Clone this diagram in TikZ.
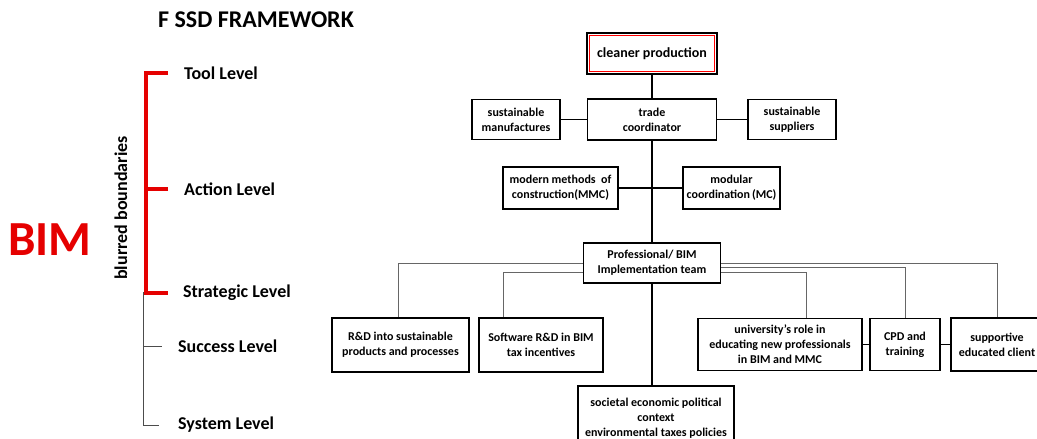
\documentclass[tikz,border=0pt]{standalone}
\usepackage{fontspec}
\setmainfont{Carlito}
\usetikzlibrary{positioning, calc}

\begin{document}
\begin{tikzpicture}[x=1pt, y=-1pt,
    box/.style={draw, line width=1.4pt, align=center, inner sep=2pt, font=\bfseries\fontsize{12}{15}\selectfont},
    level/.style={anchor=west, inner sep=0pt, font=\bfseries\fontsize{18}{20}\selectfont},
    link/.style={line width=1.4pt},
    feed/.style={gray!80!black, line width=0.9pt},
    bracket/.style={red!90!black, line width=4pt},
    tick/.style={gray!60!black, line width=0.8pt}]
    \useasboundingbox (0,0) rectangle (1037,439);

    % Title and BIM
    \node[inner sep=0pt, font=\bfseries\fontsize{24}{26}\selectfont] (title) at (256,20) {F SSD FRAMEWORK};
    \node[inner sep=0pt, text=red!90!black, font=\bfseries\fontsize{49}{52}\selectfont] (bim) at (50,240) {BIM};
    \node[inner sep=0pt, rotate=90, font=\bfseries\fontsize{18}{20}\selectfont] (blur) at (121,208) {blurred boundaries};

    % Levels
    \node[level] (tool) at (184,73) {Tool Level};
    \node[level] (act) at (184,189) {Action Level};
    \node[level] (strat) at (183,293) {Strategic Level};
    \node[level] (succ) at (178,346) {Success Level};
    \node[level] (sys) at (178,425) {System Level};

    % Red bracket
    \draw[bracket] ([xshift=-16pt]tool.west) -- ++(-22,0) |- ([xshift=-15pt]strat.west);
    \draw[bracket] ([xshift=-16pt]act.west) -- ++(-22,0);

    % Thin stem
    \coordinate (stem) at (143,292);
    \draw[tick] (stem) |- ([xshift=-19pt]sys.west);
    \draw[tick] (stem |- succ.west) -- ([xshift=-16pt]succ.west);

    % Top of the framework
    \node[box, minimum width=130pt, minimum height=41pt, font=\bfseries\fontsize{14}{16}\selectfont] (clean) at (652,53.5) {cleaner production};
    \draw[red, line width=1.2pt] ([shift={(3pt,3pt)}]clean.south west) rectangle ([shift={(-3pt,-3pt)}]clean.north east);
    \node[box, minimum width=129pt, minimum height=41pt] (trade) at (652,119.5) {trade\\coordinator};
    \node[box, minimum width=88pt, minimum height=40pt] (manuf) at (516,119.5) {sustainable\\manufactures};
    \node[box, minimum width=88pt, minimum height=40pt] (suppl) at (792,119.5) {sustainable\\suppliers};

    % Methods
    \node[box, minimum width=115pt, minimum height=42pt] (mmc) at (560.5,188) {modern methods~ of\\construction(MMC)};
    \node[box, minimum width=97pt, minimum height=42pt] (mc) at (731.5,188) {modular\\coordination\,(MC)};

    % Team
    \node[box, minimum width=137pt, minimum height=40pt] (prof) at (652,263) {Professional/ BIM\\Implementation team};

    % Bottom row
    \node[box, minimum width=137pt, minimum height=54pt] (rnd) at (400.5,345) {R\&D into sustainable\\products and processes};
    \node[box, minimum width=124pt, minimum height=54pt] (soft) at (541,345) {Software R\&D in BIM\\tax incentives};
    \node[box, minimum width=164pt, minimum height=52pt] (univ) at (780,344.5) {university’s role in\\educating new professionals\\in BIM and MMC};
    \node[box, minimum width=70pt, minimum height=52pt] (cpd) at (905,344.5) {CPD and\\training};
    \node[box, minimum width=92pt, minimum height=53pt] (client) at (997,344.5) {supportive\\educated client};
    \node[box, minimum width=156pt, minimum height=64pt] (soc) at (656,418) {societal economic political\\context\\environmental taxes policies};

    % Black links
    \draw[link] (clean.south) -- (trade.north);
    \draw[link] (manuf.east) -- (trade.west);
    \draw[link] (trade.east) -- (suppl.west);
    \draw[link] (trade.south) -- (prof.north);
    \draw[link] (mmc.east) -- (mmc.east -| trade.south);
    \draw[link] (mc.west) -- (mc.west -| trade.south);
    \draw[link] (prof.south) -- (prof.south |- soc.north);
    \draw[link] (univ.east) -- (cpd.west);
    \draw[link] (cpd.east) -- (client.west);

    % Grey links
    \draw[feed] (prof.west) -| ([xshift=-2pt]rnd.north);
    \draw[feed] ([yshift=-9pt]prof.west) -| ([xshift=-38pt]soft.north);
    \draw[feed] (prof.east) -| (client.north);
    \draw[feed] ([yshift=-4pt]prof.east) -| (cpd.north);
    \draw[feed] ([yshift=-9pt]prof.east) -| ([xshift=26pt]univ.north);
\end{tikzpicture}
\end{document}
